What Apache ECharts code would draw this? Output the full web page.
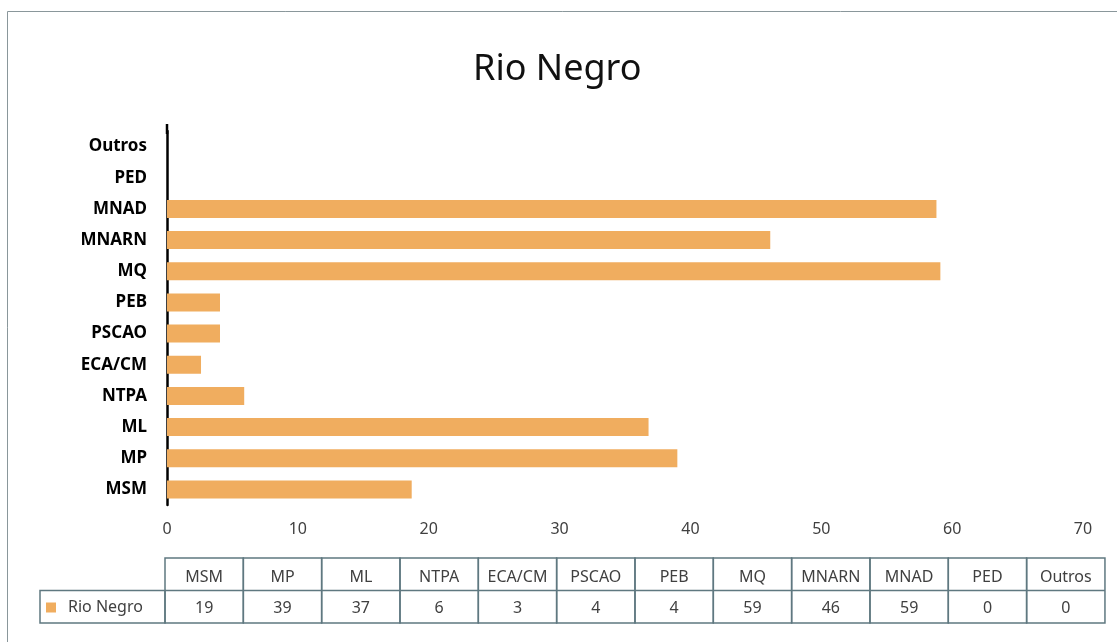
<!DOCTYPE html>
<html>
<head>
<meta charset="utf-8">
<script src="https://cdn.jsdelivr.net/npm/echarts/dist/echarts.min.js"></script>
<style>
  html, body { margin: 0; padding: 0; background: #fff; }
</style>
</head>
<body>
<div id="chart" style="width: 1117px; height: 642px;"></div>

<script>
  // categories, bottom to top as drawn on the axis
  var categories = ['MSM', 'MP', 'ML', 'NTPA', 'ECA/CM', 'PSCAO', 'PEB', 'MQ', 'MNARN', 'MNAD', 'PED', 'Outros'];
  // bar lengths (the table shows them rounded)
  var values = [18.7, 39.0, 36.8, 5.9, 2.6, 4.05, 4.05, 59.1, 46.1, 58.8, 0, 0];
  var seriesName = 'Rio Negro';
  var barColor = '#f0ad5f';

  var chart = echarts.init(document.getElementById('chart'));

  // data table under the chart
  var tableLeft = 165, colW = 78.33, rowH = 32.5, tableTop = 558;
  var borderColor = '#5f7880';
  var textColor = '#404040';
  var graphics = [];

  // outer frame
  graphics.push({
    type: 'rect',
    shape: { x: 7.5, y: 11.5, width: 1130, height: 660 },
    style: { fill: 'none', stroke: '#8a979b', lineWidth: 1 },
    silent: true
  });

  // y axis line runs a little above the first band
  graphics.push({
    type: 'line',
    shape: { x1: 167, y1: 124, x2: 167, y2: 134 },
    style: { stroke: '#000', lineWidth: 2.5 }
  });

  // legend cell
  graphics.push({
    type: 'rect',
    shape: { x: 40, y: tableTop + rowH, width: tableLeft - 40, height: rowH },
    style: { fill: 'none', stroke: borderColor, lineWidth: 1.5 }
  });
  graphics.push({
    type: 'rect',
    shape: { x: 46, y: tableTop + rowH + 12, width: 10, height: 10 },
    style: { fill: barColor }
  });
  graphics.push({
    type: 'text',
    x: 68, y: tableTop + rowH * 1.5 + 1,
    style: {
      text: seriesName, fill: textColor, fontSize: 16,
      fontFamily: 'Noto Sans', verticalAlign: 'middle', textAlign: 'left'
    }
  });

  categories.forEach(function (cat, i) {
    var x = tableLeft + i * colW;
    graphics.push({
      type: 'rect',
      shape: { x: x, y: tableTop, width: colW, height: rowH * 2 },
      style: { fill: 'none', stroke: borderColor, lineWidth: 1.5 }
    });
    graphics.push({
      type: 'line',
      shape: { x1: x, y1: tableTop + rowH, x2: x + colW, y2: tableTop + rowH },
      style: { stroke: borderColor, lineWidth: 1.5 }
    });
    graphics.push({
      type: 'text',
      x: x + colW / 2, y: tableTop + rowH / 2 + 3,
      style: {
        text: cat, fill: textColor, fontSize: 16, fontFamily: 'Noto Sans',
        textAlign: 'center', verticalAlign: 'middle'
      }
    });
    graphics.push({
      type: 'text',
      x: x + colW / 2, y: tableTop + rowH * 1.5 + 2,
      style: {
        text: String(Math.round(values[i])), fill: textColor, fontSize: 16,
        fontFamily: 'Noto Sans', textAlign: 'center', verticalAlign: 'middle'
      }
    });
  });

  var option = {
    backgroundColor: '#fff',
    animation: false,
    title: {
      text: 'Rio Negro',
      left: 468,
      top: 47,
      textStyle: {
        fontSize: 36, fontWeight: 'normal', color: '#111',
        fontFamily: 'Noto Sans'
      }
    },
    grid: { left: 167, right: 34, top: 131, bottom: 137 },
    xAxis: {
      type: 'value',
      min: 0,
      max: 70,
      interval: 10,
      axisLine: { show: false },
      axisTick: { show: false },
      splitLine: { show: false },
      axisLabel: {
        color: textColor, fontSize: 16, margin: 16,
        fontFamily: 'Noto Sans'
      }
    },
    yAxis: {
      type: 'category',
      data: categories,
      axisLine: { show: true, lineStyle: { color: '#000', width: 2.5 } },
      axisTick: { show: false },
      axisLabel: {
        color: '#000', fontSize: 17, fontWeight: 'bold', margin: 20,
        fontFamily: 'Noto Sans'
      }
    },
    series: [{
      name: seriesName,
      type: 'bar',
      data: values,
      barWidth: 18,
      itemStyle: { color: barColor }
    }],
    graphic: graphics
  };

  chart.setOption(option);
</script>
</body>
</html>
